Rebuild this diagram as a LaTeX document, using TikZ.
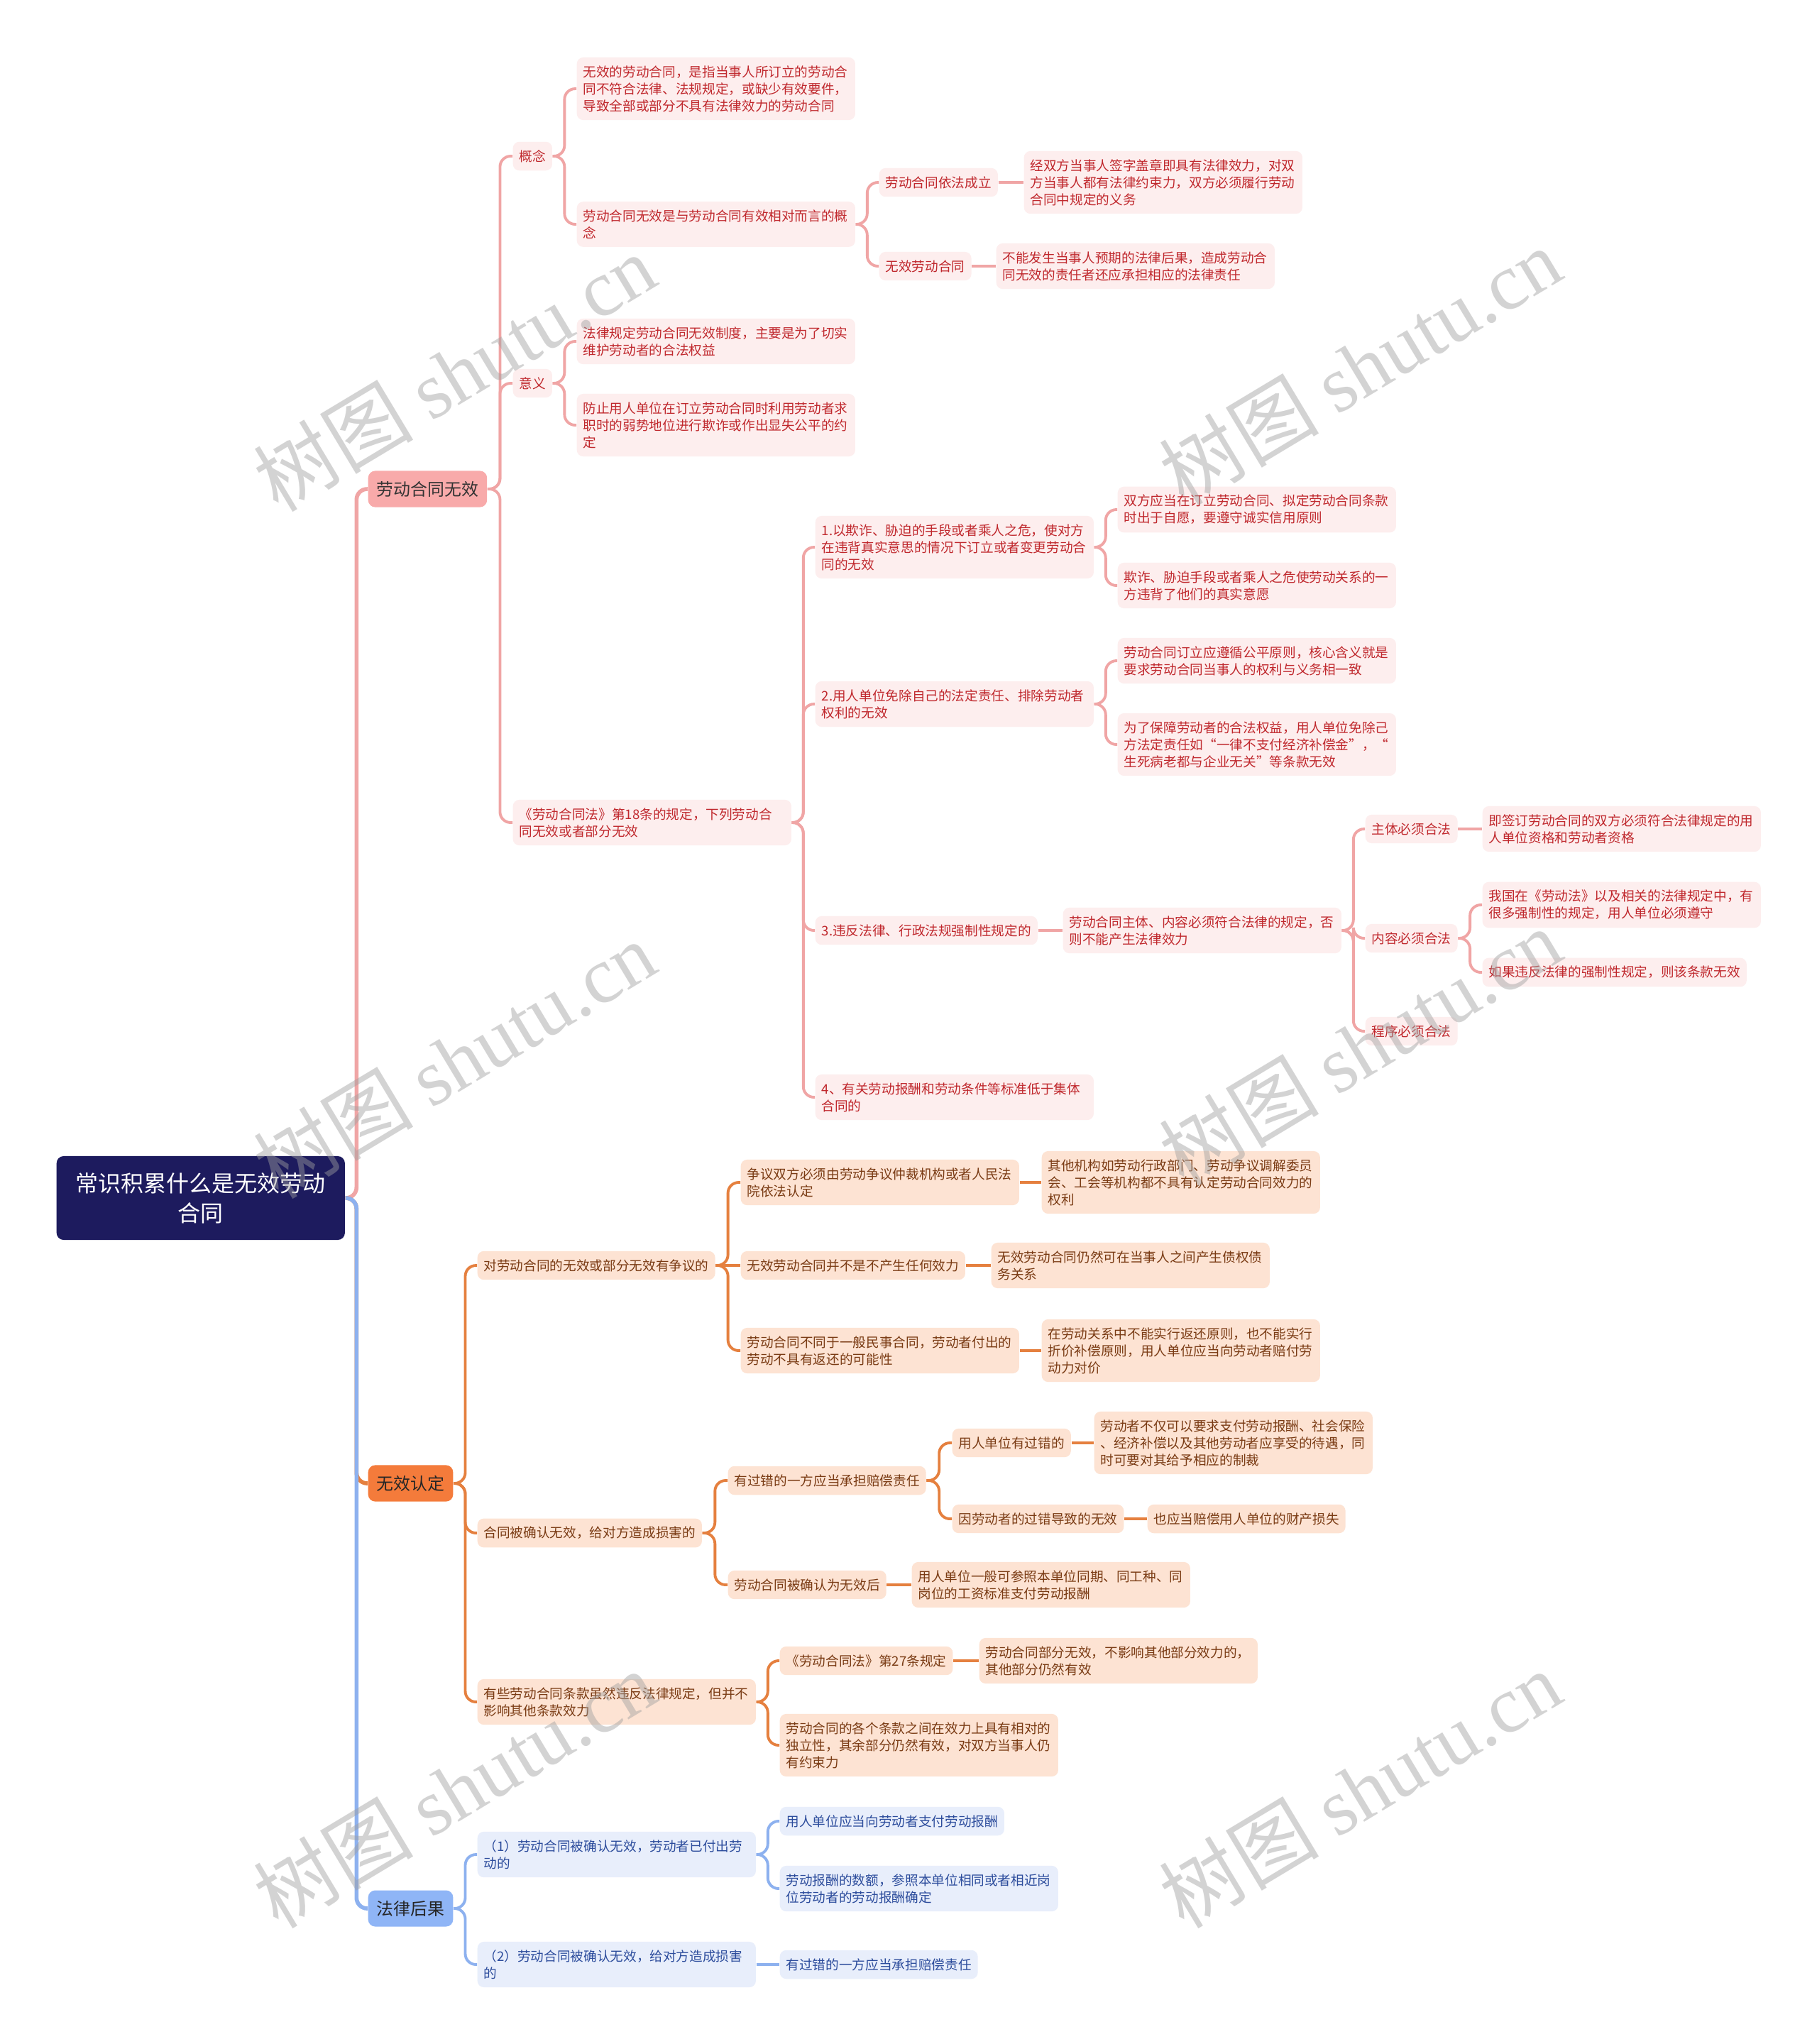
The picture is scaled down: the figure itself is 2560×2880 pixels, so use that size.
\documentclass[tikz,border=0pt]{standalone}
\usepackage{fontspec}
\setmainfont{Noto Sans CJK SC}
\newfontfamily\wmlatin{Liberation Serif}
\usetikzlibrary{calc}
\definecolor{rootc}{HTML}{1D1B5E}
\definecolor{pinkfill}{HTML}{FDEEEE}
\definecolor{pinktext}{HTML}{C0282D}
\definecolor{pinkline}{HTML}{F0A5A5}
\definecolor{pinkmain}{HTML}{F8AAAA}
\definecolor{orgfill}{HTML}{FDE3D3}
\definecolor{orgtext}{HTML}{7A3B14}
\definecolor{orgline}{HTML}{E5803F}
\definecolor{orgmain}{HTML}{F47B3B}
\definecolor{blufill}{HTML}{E8EEFB}
\definecolor{blutext}{HTML}{2C4C9C}
\definecolor{bluline}{HTML}{8DB1EF}
\definecolor{blumain}{HTML}{8FB5F6}
\tikzset{
  base/.style={draw=none, rounded corners=0.09cm, inner xsep=0.09cm, inner ysep=0.115cm,
    anchor=west, font=\fontsize{5.3pt}{6.8pt}\selectfont, align=left},
  pk/.style={base, fill=pinkfill, text=pinktext},
  og/.style={base, fill=orgfill, text=orgtext},
  bl/.style={base, fill=blufill, text=blutext},
  wide/.style={text width=3.74cm},
  mainnode/.style={draw=none, rounded corners=0.1cm, inner xsep=0.12cm, inner ysep=0.145cm,
    anchor=west, font=\fontsize{6.8pt}{8pt}\selectfont},
  rootnode/.style={draw=none, rounded corners=0.1cm, fill=rootc, text=white, anchor=west,
    minimum width=4.06cm, minimum height=1.18cm, align=center, text width=3.8cm,
    font=\fontsize{9.1pt}{12pt}\selectfont},
  pl/.style={draw=pinkline, line width=1.1pt, rounded corners=0.15cm},
  ol/.style={draw=orgline, line width=1.1pt, rounded corners=0.15cm},
  bll/.style={draw=bluline, line width=1.1pt, rounded corners=0.15cm},
  wm/.style={rotate=31, text=gray!75, text opacity=0.45, font=\fontsize{32pt}{32pt}\selectfont}
}
% elbow connector (parent east -> midway trunk -> child west)
\newcommand{\lnk}[3]{\draw[#1] (#2.east) -- ($(#2.east)!0.5!(#3.west |- #2.east)$) |- (#3.west);}
% straight connector for children at the parent's height
\newcommand{\slnk}[3]{\draw[#1, rounded corners=0pt] (#2.east) -- (#3.west |- #2.east);}
\begin{document}
\begin{tikzpicture}[x=0.01cm, y=-0.01cm]
\useasboundingbox (0,0) rectangle (2560,2880);
\fill[white] (0,0) rectangle (2560,2880);

% root and main branches
\node[rootnode] (root) at (79,1688) {常识积累什么是无效劳动\\合同};
\node[mainnode, fill=pinkmain, text=black!80] (m1) at (518,689) {劳动合同无效};
\node[mainnode, fill=orgmain, text=black!85] (m2) at (518,2090) {无效认定};
\node[mainnode, fill=blumain, text=black!85] (m3) at (518,2689) {法律后果};

% pink branch
\node[pk] (gn) at (722,220) {概念};
\node[pk] (yy) at (722,540) {意义};
\node[pk,wide] (l18) at (722,1159) {《劳动合同法》第18条的规定，下列劳动合\\同无效或者部分无效};
\node[pk,wide] (c1) at (812,125) {无效的劳动合同，是指当事人所订立的劳动合\\同不符合法律、法规规定，或缺少有效要件，\\导致全部或部分不具有法律效力的劳动合同};
\node[pk,wide] (c2) at (812,316) {劳动合同无效是与劳动合同有效相对而言的概\\念};
\node[pk] (c2a) at (1238,257) {劳动合同依法成立};
\node[pk,wide] (c2a1) at (1442,257) {经双方当事人签字盖章即具有法律效力，对双\\方当事人都有法律约束力，双方必须履行劳动\\合同中规定的义务};
\node[pk] (c2b) at (1238,375) {无效劳动合同};
\node[pk,wide] (c2b1) at (1403,375) {不能发生当事人预期的法律后果，造成劳动合\\同无效的责任者还应承担相应的法律责任};
\node[pk,wide] (y1) at (812,481) {法律规定劳动合同无效制度，主要是为了切实\\维护劳动者的合法权益};
\node[pk,wide] (y2) at (812,599) {防止用人单位在订立劳动合同时利用劳动者求\\职时的弱势地位进行欺诈或作出显失公平的约\\定};
\node[pk,wide] (a1) at (1148,771) {1.以欺诈、胁迫的手段或者乘人之危，使对方\\在违背真实意思的情况下订立或者变更劳动合\\同的无效};
\node[pk,wide] (a1a) at (1574,718) {双方应当在订立劳动合同、拟定劳动合同条款\\时出于自愿，要遵守诚实信用原则};
\node[pk,wide] (a1b) at (1574,825) {欺诈、胁迫手段或者乘人之危使劳动关系的一\\方违背了他们的真实意愿};
\node[pk,wide] (a2) at (1148,992) {2.用人单位免除自己的法定责任、排除劳动者\\权利的无效};
\node[pk,wide] (a2a) at (1574,931) {劳动合同订立应遵循公平原则，核心含义就是\\要求劳动合同当事人的权利与义务相一致};
\node[pk,wide] (a2b) at (1574,1049) {为了保障劳动者的合法权益，用人单位免除己\\方法定责任如“一律不支付经济补偿金”，“\\生死病老都与企业无关”等条款无效};
\node[pk] (a3) at (1148,1311) {3.违反法律、行政法规强制性规定的};
\node[pk,wide] (a3a) at (1497,1311) {劳动合同主体、内容必须符合法律的规定，否\\则不能产生法律效力};
\node[pk] (s1) at (1923,1168) {主体必须合法};
\node[pk,wide] (s1a) at (2088,1168) {即签订劳动合同的双方必须符合法律规定的用\\人单位资格和劳动者资格};
\node[pk] (s2) at (1923,1322) {内容必须合法};
\node[pk,wide] (s2a) at (2088,1275) {我国在《劳动法》以及相关的法律规定中，有\\很多强制性的规定，用人单位必须遵守};
\node[pk] (s2b) at (2088,1370) {如果违反法律的强制性规定，则该条款无效};
\node[pk] (s3) at (1923,1453) {程序必须合法};
\node[pk,wide] (a4) at (1148,1546) {4、有关劳动报酬和劳动条件等标准低于集体\\合同的};

% orange branch
\node[og] (b1) at (672,1783) {对劳动合同的无效或部分无效有争议的};
\node[og,wide] (b1a) at (1043,1666) {争议双方必须由劳动争议仲裁机构或者人民法\\院依法认定};
\node[og,wide] (b1a1) at (1467,1666) {其他机构如劳动行政部门、劳动争议调解委员\\会、工会等机构都不具有认定劳动合同效力的\\权利};
\node[og] (b1b) at (1043,1783) {无效劳动合同并不是不产生任何效力};
\node[og,wide] (b1b1) at (1396,1783) {无效劳动合同仍然可在当事人之间产生债权债\\务关系};
\node[og,wide] (b1c) at (1043,1903) {劳动合同不同于一般民事合同，劳动者付出的\\劳动不具有返还的可能性};
\node[og,wide] (b1c1) at (1467,1903) {在劳动关系中不能实行返还原则，也不能实行\\折价补偿原则，用人单位应当向劳动者赔付劳\\动力对价};
\node[og] (b2) at (672,2160) {合同被确认无效，给对方造成损害的};
\node[og] (b2a) at (1025,2086) {有过错的一方应当承担赔偿责任};
\node[og] (b2a1) at (1341,2033) {用人单位有过错的};
\node[og,wide] (b2a1x) at (1541,2033) {劳动者不仅可以要求支付劳动报酬、社会保险\\、经济补偿以及其他劳动者应享受的待遇，同\\时可要对其给予相应的制裁};
\node[og] (b2a2) at (1341,2140) {因劳动者的过错导致的无效};
\node[og] (b2a2x) at (1616,2140) {也应当赔偿用人单位的财产损失};
\node[og] (b2b) at (1025,2233) {劳动合同被确认为无效后};
\node[og,wide] (b2b1) at (1284,2233) {用人单位一般可参照本单位同期、同工种、同\\岗位的工资标准支付劳动报酬};
\node[og,wide] (b3) at (672,2398) {有些劳动合同条款虽然违反法律规定，但并不\\影响其他条款效力};
\node[og] (b3a) at (1098,2340) {《劳动合同法》第27条规定};
\node[og,wide] (b3a1) at (1379,2340) {劳动合同部分无效，不影响其他部分效力的，\\其他部分仍然有效};
\node[og,wide] (b3b) at (1098,2459) {劳动合同的各个条款之间在效力上具有相对的\\独立性，其余部分仍然有效，对双方当事人仍\\有约束力};

% blue branch
\node[bl,wide] (l1) at (672,2613) {（1）劳动合同被确认无效，劳动者已付出劳\\动的};
\node[bl] (l1a) at (1098,2566) {用人单位应当向劳动者支付劳动报酬};
\node[bl,wide] (l1b) at (1098,2661) {劳动报酬的数额，参照本单位相同或者相近岗\\位劳动者的劳动报酬确定};
\node[bl,wide] (l2) at (672,2768) {（2）劳动合同被确认无效，给对方造成损害\\的};
\node[bl] (l2a) at (1098,2768) {有过错的一方应当承担赔偿责任};

% root connectors
\lnk{pl,line width=1.6pt}{root}{m1}
\lnk{ol,line width=1.6pt}{root}{m2}
\lnk{bll,line width=1.6pt}{root}{m3}

% pink connectors
\lnk{pl}{m1}{gn}
\lnk{pl}{m1}{yy}
\lnk{pl}{m1}{l18}
\lnk{pl}{gn}{c1}
\lnk{pl}{gn}{c2}
\lnk{pl}{c2}{c2a}
\lnk{pl}{c2}{c2b}
\slnk{pl}{c2a}{c2a1}
\slnk{pl}{c2b}{c2b1}
\lnk{pl}{yy}{y1}
\lnk{pl}{yy}{y2}
\lnk{pl}{l18}{a1}
\lnk{pl}{l18}{a2}
\lnk{pl}{l18}{a3}
\lnk{pl}{l18}{a4}
\lnk{pl}{a1}{a1a}
\lnk{pl}{a1}{a1b}
\lnk{pl}{a2}{a2a}
\lnk{pl}{a2}{a2b}
\slnk{pl}{a3}{a3a}
\lnk{pl}{a3a}{s1}
\lnk{pl}{a3a}{s2}
\lnk{pl}{a3a}{s3}
\slnk{pl}{s1}{s1a}
\lnk{pl}{s2}{s2a}
\lnk{pl}{s2}{s2b}

% orange connectors
\lnk{ol}{m2}{b1}
\lnk{ol}{m2}{b2}
\lnk{ol}{m2}{b3}
\lnk{ol}{b1}{b1a}
\slnk{ol}{b1}{b1b}
\lnk{ol}{b1}{b1c}
\slnk{ol}{b1a}{b1a1}
\slnk{ol}{b1b}{b1b1}
\slnk{ol}{b1c}{b1c1}
\lnk{ol}{b2}{b2a}
\lnk{ol}{b2}{b2b}
\lnk{ol}{b2a}{b2a1}
\lnk{ol}{b2a}{b2a2}
\slnk{ol}{b2a1}{b2a1x}
\slnk{ol}{b2a2}{b2a2x}
\slnk{ol}{b2b}{b2b1}
\lnk{ol}{b3}{b3a}
\lnk{ol}{b3}{b3b}
\slnk{ol}{b3a}{b3a1}

% blue connectors
\lnk{bll}{m3}{l1}
\lnk{bll}{m3}{l2}
\lnk{bll}{l1}{l1a}
\lnk{bll}{l1}{l1b}
\slnk{bll}{l2}{l2a}

% watermarks
\foreach \wx/\wy [count=\i] in {640/525, 1916/516, 640/1493, 1916/1475, 640/2521, 1916/2521}
  \node[wm] (wm\i) at (\wx,\wy) {树图 {\wmlatin shutu.cn}};
\end{tikzpicture}
\end{document}
